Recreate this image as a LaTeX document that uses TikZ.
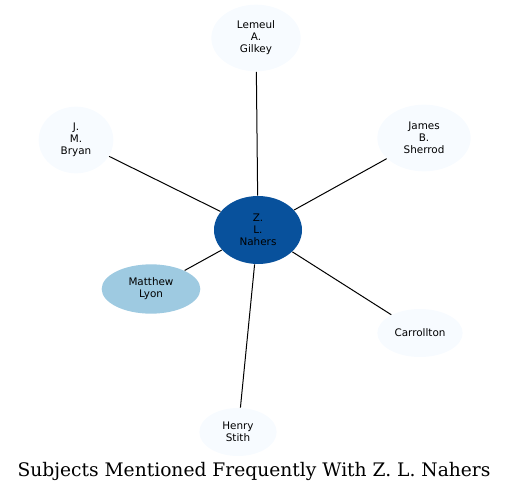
\documentclass[tikz,border=0pt]{standalone}
\usepackage{fontspec}
\setmainfont{DejaVu Serif}
\newfontfamily\nodefont{DejaVu Sans}
\usetikzlibrary{shapes.geometric}
\definecolor{hubblue}{RGB}{8,81,156}
\definecolor{paleblue}{RGB}{247,251,255}
\definecolor{midblue}{RGB}{158,202,225}
\tikzset{every picture/.style={line width=0.75pt}}
\tikzset{subj/.style={ellipse, fill=paleblue, draw=none, inner sep=0pt, align=center, font=\nodefont\fontsize{7.8}{9}\selectfont}}

\begin{document}
\begin{tikzpicture}[x=0.75pt,y=0.75pt,yscale=-1,xscale=1]
		\useasboundingbox (0,0) rectangle (509,492);
		
		%Ellipses
		\node[subj, fill=hubblue, minimum width=66pt, minimum height=51pt] (nahers) at (258,230) {Z.\\L.\\Nahers};
		\node[subj, minimum width=67pt, minimum height=50pt] (gilkey) at (256,38) {Lemeul\\A.\\Gilkey};
		\node[subj, minimum width=56pt, minimum height=50pt] (bryan) at (76,140) {J.\\M.\\Bryan};
		\node[subj, minimum width=70pt, minimum height=50pt] (sherrod) at (424,138) {James\\B.\\Sherrod};
		\node[subj, fill=midblue, minimum width=74pt, minimum height=37pt] (lyon) at (151,289) {Matthew\\Lyon};
		\node[subj, minimum width=64pt, minimum height=36pt] (carrollton) at (420,333) {Carrollton};
		\node[subj, minimum width=58pt, minimum height=36pt] (stith) at (238,432) {Henry\\Stith};
		
		%Straight Lines
		\draw (nahers) -- (gilkey) ;
		\draw (nahers) -- (bryan) ;
		\draw (nahers) -- (sherrod) ;
		\draw (nahers) -- (lyon) ;
		\draw (nahers) -- (carrollton) ;
		\draw (nahers) -- (stith) ;
		
		% Text Node
		\node[font=\fontsize{14}{16}\selectfont] (title) at (254,471) {Subjects Mentioned Frequently With Z. L. Nahers};
		
\end{tikzpicture}
\end{document}
